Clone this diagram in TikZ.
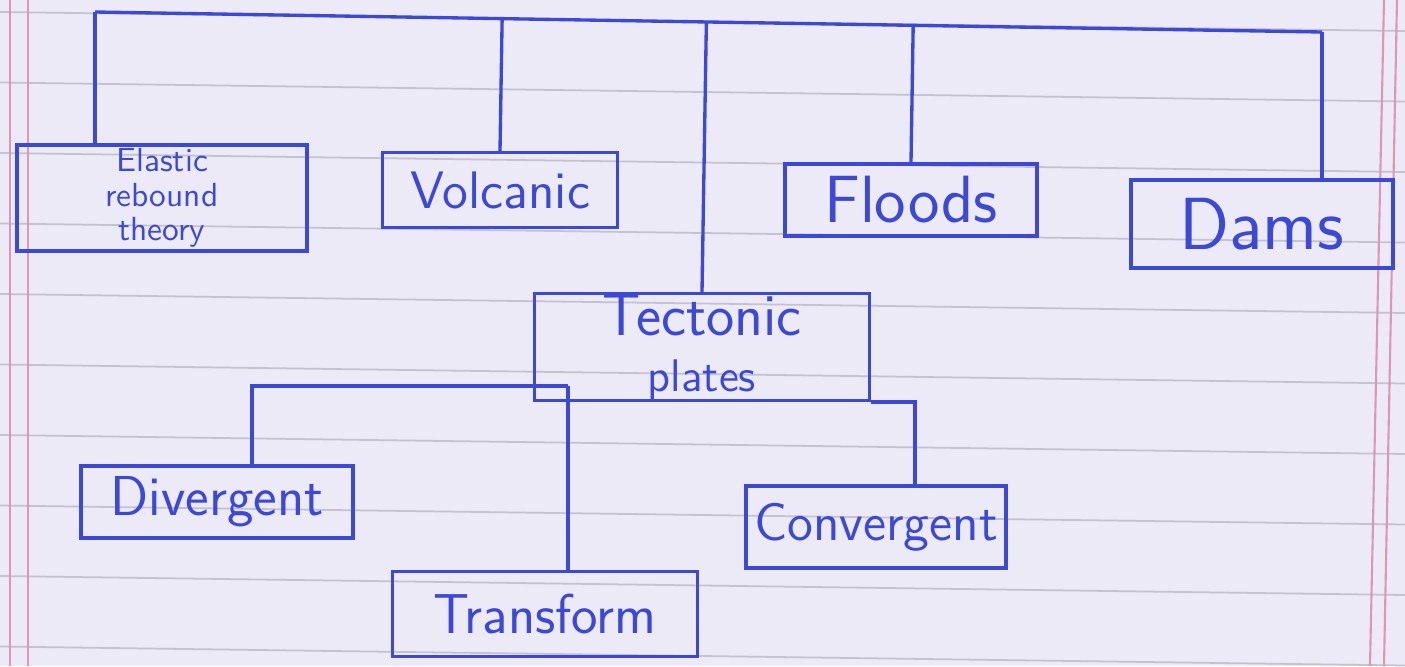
\documentclass[tikz,border=0pt]{standalone}
\usepackage{tikz}
\usetikzlibrary{calc}
\definecolor{ink}{RGB}{60,72,214}
\definecolor{paper}{RGB}{236,234,246}
\definecolor{ruling}{RGB}{196,194,206}
\definecolor{margin}{RGB}{222,150,180}
\newcommand{\inkWidth}[0]{0.95pt}
\newcommand{\boxFont}[2]{\fontsize{#1}{#2}\selectfont\sffamily}

\begin{document}
\begin{tikzpicture}[x=0.01cm, y=-0.01cm]
  \tikzset{box/.style={draw=ink, line width=\inkWidth, align=center, text=ink, inner sep=1pt},
           link/.style={draw=ink, line width=\inkWidth}}
  \fill[paper] (0,0) rectangle (1405,666);
  \useasboundingbox (0,0) rectangle (1405,666);
  % the ruled paper
  \foreach \k in {0,...,9}
    \draw[ruling, line width=0.5pt] (0,12+70.5*\k) -- (1405,31+70.5*\k);
  \draw[margin, line width=0.6pt] (10,0) -- (10,666);
  \draw[margin, line width=0.6pt] (28,0) -- (28,666);
  \draw[margin, line width=0.6pt] (1384,0) -- (1370,666);
  \draw[margin, line width=0.6pt] (1397,0) -- (1384,666);

  \node[box, font=\boxFont{9.5}{9.8}, minimum width=2.9cm, minimum height=0.93cm] (ert) at (162,198)
    {Elastic\\rebound\\theory};
  \node[box, font=\boxFont{15}{16}, minimum width=2.35cm, minimum height=0.75cm] (vol) at (500,190)
    {Volcanic};
  \node[box, font=\boxFont{19}{20}, minimum width=2.52cm, minimum height=0.72cm] (fl) at (911,200)
    {Floods};
  \node[box, font=\boxFont{21}{22}, minimum width=2.62cm, minimum height=0.88cm] (dam) at (1262,224)
    {Dams};
  \node[box, font=\boxFont{17}{15}, minimum width=3.35cm, minimum height=1.0cm, inner sep=0pt] (tp) at (702,347)
    {Tectonic\\[1pt]{\fontsize{13}{13}\selectfont plates}};
  \node[box, font=\boxFont{16}{17}, minimum width=2.72cm, minimum height=0.72cm] (div) at (217,502)
    {Divergent};
  \node[box, font=\boxFont{16}{17}, minimum width=3.05cm, minimum height=0.85cm] (tr) at (545,614)
    {Transform};
  \node[box, font=\boxFont{15}{16}, minimum width=2.6cm, minimum height=0.82cm] (con) at (876,527)
    {Convergent};

  % top bus
  \coordinate (bus-l) at (95,12);
  \coordinate (bus-r) at (1322,32);
  \draw[link] (bus-l) -- (bus-r);
  \draw[link] (bus-l) -- (bus-l |- ert.north);
  \draw[link] (vol.north) -- ($(bus-l)!(vol.north)!(bus-r)$);
  \draw[link] (tp.north) -- ($(bus-l)!(tp.north)!(bus-r)$);
  \draw[link] (fl.north) -- ($(bus-l)!(fl.north)!(bus-r)$);
  \draw[link] (bus-r) -- (bus-r |- dam.north);

  % plate boundaries
  \coordinate (div-top) at (252,386);
  \coordinate (tr-top) at (568,386);
  \coordinate (con-top) at (915,397);
  \draw[link] (div-top |- div.north) -- (div-top) -- (tr-top);
  \draw[link] (tr-top) -- (tr-top |- tr.north);
  \draw[link] (tp.south east) -- (tp.south east -| con-top) -- (con-top |- con.north);
\end{tikzpicture}
\end{document}
